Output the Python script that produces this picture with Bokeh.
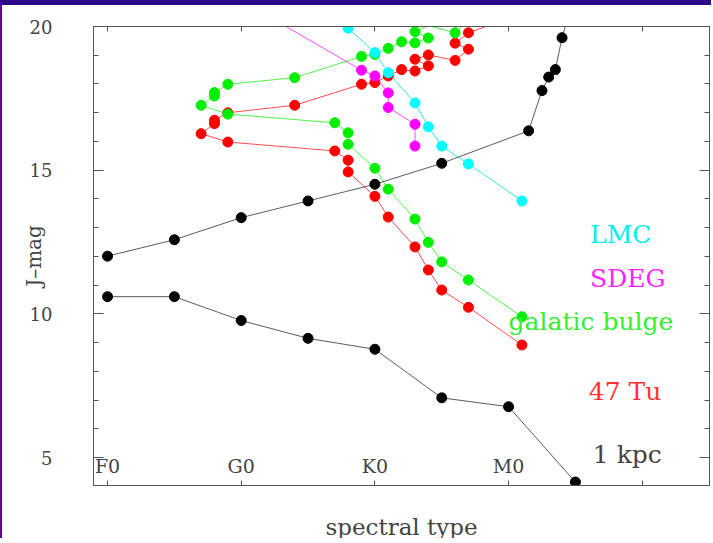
import numpy as np
from bokeh.plotting import figure
from bokeh.models import (Range1d, LinearAxis, SingleIntervalTicker, Label,
                          ColumnDataSource)
from bokeh.core.properties import value
from bokeh.embed import file_html
from bokeh.resources import INLINE

# spectral type coded as subtype number: F0=0, G0=10, K0=20, M0=30
tick_pos = [0, 10, 20, 30]
tick_labels = ["F0", "G0", "K0", "M0"]

# 1 kpc sequence (lower black)
kpc_x = [0, 5, 10, 15, 20, 25, 30, 35]
kpc_y = [10.60, 10.60, 9.77, 9.15, 8.77, 7.08, 6.77, 4.15]

# upper black sequence
blk_x = [0, 5, 10, 15, 20, 25, 31.5, 32.5, 33, 33.5, 34, 35]
blk_y = [12.01, 12.58, 13.35, 13.93, 14.51, 15.24, 16.37, 17.77, 18.24, 18.50, 19.61, 21.2]

# 47 Tuc (red)
tuc_x = [31, 27, 25, 24, 23, 21, 20, 18, 18, 17, 9, 7, 8, 8, 9, 14, 19, 20, 21, 22,
         23, 24, 23, 24, 26, 27, 26, 27, 29]
tuc_y = [8.92, 10.23, 10.83, 11.53, 12.33, 13.37, 14.09, 14.94, 15.35, 15.67, 15.98,
         16.27, 16.62, 16.74, 17.00, 17.26, 17.99, 18.05, 18.28, 18.50, 18.45, 18.63,
         18.86, 19.01, 18.82, 19.21, 19.42, 19.78, 20.12]

# galactic bulge (green)
bul_x = [31, 27, 25, 24, 23, 21, 20, 18, 18, 17, 9, 7, 8, 8, 9, 14, 19, 20, 21, 22,
         23, 24, 23, 24, 26, 27]
bul_y = [9.90, 11.18, 11.81, 12.49, 13.30, 14.34, 15.07, 15.90, 16.30, 16.65, 16.95,
         17.26, 17.58, 17.70, 17.99, 18.22, 18.96, 19.03, 19.24, 19.47, 19.43, 19.60,
         19.82, 20.03, 19.78, 20.20]

# SDEG (magenta)
sdeg_x = [10, 19, 20, 21, 21, 23, 23]
sdeg_y = [20.9, 18.48, 18.28, 17.69, 17.18, 16.60, 15.84]

# LMC (cyan)
lmc_x = [18, 20, 21, 23, 24, 25, 27, 31]
lmc_y = [19.94, 19.09, 18.39, 17.34, 16.51, 15.84, 15.22, 13.93]

Y_MIN, Y_MAX = 4.03, 20.0
X_MIN, X_MAX = -1.05, 45.03

p = figure(width=711, height=538, output_backend="svg", toolbar_location=None,
           x_range=Range1d(X_MIN, X_MAX), y_range=Range1d(Y_MIN, Y_MAX),
           min_border_left=91, min_border_right=4, min_border_top=21,
           min_border_bottom=58, background_fill_color="white",
           border_fill_color="white")
p.styles = {"border-top": "5px solid #2c0a8a", "border-left": "2px solid #5a0a9a"}
p.grid.visible = False
p.outline_line_color = "#555555"

AX = "#555555"
SERIF = "DejaVu Serif"
blank = {v: "" for v in range(-10, 60, 5)}


def style_y(ax, labels=True):
    ax.ticker = SingleIntervalTicker(interval=5, num_minor_ticks=5)
    ax.major_tick_in = 10
    ax.major_tick_out = 0
    ax.minor_tick_in = 5
    ax.minor_tick_out = 0
    ax.axis_line_color = AX
    ax.major_tick_line_color = AX
    ax.minor_tick_line_color = AX
    if labels:
        ax.major_label_text_font = SERIF
        ax.major_label_text_font_size = "18px"
        ax.major_label_text_color = "#444444"
        ax.major_label_standoff = 41
    else:
        ax.major_label_overrides = blank
        ax.major_label_standoff = 0


def style_x(ax):
    ax.ticker = SingleIntervalTicker(interval=10, num_minor_ticks=0)
    ax.major_tick_in = 5
    ax.major_tick_out = 0
    ax.minor_tick_in = 0
    ax.minor_tick_out = 0
    ax.axis_line_color = AX
    ax.major_tick_line_color = AX
    ax.major_label_overrides = blank
    ax.major_label_standoff = 0


style_y(p.yaxis[0], True)
p.yaxis[0].axis_label = "J\u2013mag"
p.yaxis[0].axis_label_text_font = SERIF
p.yaxis[0].axis_label_text_font_size = "20px"
p.yaxis[0].axis_label_text_font_style = "normal"
p.yaxis[0].axis_label_text_color = "#444444"
p.yaxis[0].axis_label_standoff = -19

style_x(p.xaxis[0])
p.xaxis[0].axis_label = "spectral type"
p.xaxis[0].axis_label_text_font = SERIF
p.xaxis[0].axis_label_text_font_size = "23px"
p.xaxis[0].axis_label_text_font_style = "normal"
p.xaxis[0].axis_label_text_color = "#444444"
p.xaxis[0].axis_label_standoff = 28

right_ax = LinearAxis()
style_y(right_ax, False)
p.add_layout(right_ax, "right")
top_ax = LinearAxis()
style_x(top_ax)
p.add_layout(top_ax, "above")


def series(xs, ys, color, line_color, line_alpha=1.0):
    xs = np.asarray(xs, dtype=float)
    ys = np.asarray(ys, dtype=float)
    p.line(xs, ys, line_color=line_color, line_width=1, line_alpha=line_alpha)
    m = (ys <= Y_MAX) & (ys >= Y_MIN - 0.2)
    p.scatter(xs[m], ys[m], size=10, fill_color=color, line_color=color)


series(tuc_x, tuc_y, "#ff0000", "#ff0000", 0.7)
series(bul_x, bul_y, "#00ee00", "#00ee00", 0.7)
series(sdeg_x, sdeg_y, "#ff00ff", "#ff00ff", 0.7)
series(lmc_x, lmc_y, "#00ffff", "#00dddd", 0.8)
series(blk_x, blk_y, "#000000", "#333333", 0.8)
series(kpc_x, kpc_y, "#000000", "#333333", 0.8)

# spectral-type labels drawn inside the frame
tl_src = ColumnDataSource(dict(x=tick_pos, y=np.full(len(tick_pos), 4.72),
                               text=tick_labels))
p.text(x="x", y="y", text="text", source=tl_src, text_font=value(SERIF),
       text_font_size="19px", text_color="#444444", text_align="center",
       text_baseline="middle")

# series names
names = [("LMC", "#00eeee", 36.1, 12.77),
         ("SDEG", "#ff22ff", 36.1, 11.24),
         ("galatic bulge", "#33ee33", 30.0, 9.75),
         ("47 Tu", "#ff3333", 36.0, 7.31),
         ("1 kpc", "#444444", 36.3, 5.12)]
for txt, col, lx, ly in names:
    p.add_layout(Label(x=lx, y=ly, text=txt, text_color=col,
                       text_font=SERIF, text_font_size="25px",
                       text_align="left", text_baseline="alphabetic"))

open("out.html", "w").write(file_html(p, INLINE))
